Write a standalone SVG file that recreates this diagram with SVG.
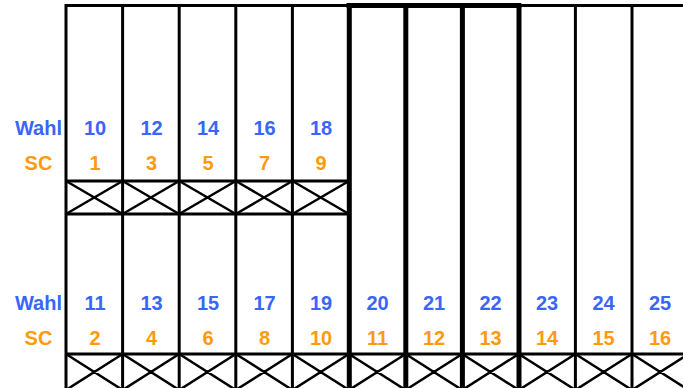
<svg xmlns="http://www.w3.org/2000/svg" width="683" height="388" viewBox="0 0 683 388">
<style>
.ln{stroke:#000;stroke-width:3;fill:none}
.tk{stroke:#000;stroke-width:5;fill:none}
.x{stroke:#000;stroke-width:2.5;fill:none}
text{font-family:"Liberation Sans",Arial,sans-serif;font-weight:bold;font-size:20px;text-anchor:middle}
.w{fill:#3a66f7}
.s{fill:#ff9a10}
</style>
<rect width="683" height="388" fill="#fff"/>
<g id="connectors">
<line class="ln" x1="66" y1="5.5" x2="683" y2="5.5"/>
<line class="tk" x1="346.5" y1="5.5" x2="521.3" y2="5.5"/>
<line class="ln" x1="66" y1="4" x2="66" y2="388"/>
<line class="ln" x1="122.6" y1="5" x2="122.6" y2="388"/>
<line class="ln" x1="179.2" y1="5" x2="179.2" y2="388"/>
<line class="ln" x1="235.8" y1="5" x2="235.8" y2="388"/>
<line class="ln" x1="292.4" y1="5" x2="292.4" y2="388"/>
<line class="tk" x1="349.3" y1="5" x2="349.3" y2="388"/>
<line class="tk" x1="405.8" y1="5" x2="405.8" y2="388"/>
<line class="tk" x1="462.4" y1="5" x2="462.4" y2="388"/>
<line class="tk" x1="519" y1="5" x2="519" y2="388"/>
<line class="ln" x1="575.4" y1="5" x2="575.4" y2="388"/>
<line class="ln" x1="632" y1="5" x2="632" y2="388"/>
<line class="ln" x1="66" y1="181" x2="349" y2="181"/>
<line class="ln" x1="66" y1="214" x2="349" y2="214"/>
<path class="x" d="M66 181L122.6 214M122.6 181L66 214M122.6 181L179.2 214M179.2 181L122.6 214M179.2 181L235.8 214M235.8 181L179.2 214M235.8 181L292.4 214M292.4 181L235.8 214M292.4 181L349 214M349 181L292.4 214"/>
<line class="ln" x1="66" y1="354" x2="683" y2="354"/>
<path class="x" d="M66 354L122.6 390M122.6 354L66 390M122.6 354L179.2 390M179.2 354L122.6 390M179.2 354L235.8 390M235.8 354L179.2 390M235.8 354L292.4 390M292.4 354L235.8 390M292.4 354L349 390M349 354L292.4 390M349 354L405.6 390M405.6 354L349 390M405.6 354L462.2 390M462.2 354L405.6 390M462.2 354L518.8 390M518.8 354L462.2 390M518.8 354L575.4 390M575.4 354L518.8 390M575.4 354L632 390M632 354L575.4 390M632 354L688.6 390M688.6 354L632 390"/>
</g>
<g id="labels">
<text class="w" x="38.5" y="135">Wahl</text>
<text class="s" x="38.5" y="170">SC</text>
<text class="w" x="38.5" y="310">Wahl</text>
<text class="s" x="38.5" y="345">SC</text>
</g>
<g id="top-row">
<text class="w" x="95" y="135">10</text><text class="s" x="95" y="170">1</text>
<text class="w" x="151.5" y="135">12</text><text class="s" x="151.5" y="170">3</text>
<text class="w" x="208" y="135">14</text><text class="s" x="208" y="170">5</text>
<text class="w" x="264.5" y="135">16</text><text class="s" x="264.5" y="170">7</text>
<text class="w" x="321" y="135">18</text><text class="s" x="321" y="170">9</text>
</g>
<g id="bottom-row">
<text class="w" x="95" y="310">11</text><text class="s" x="95" y="345">2</text>
<text class="w" x="151.5" y="310">13</text><text class="s" x="151.5" y="345">4</text>
<text class="w" x="208" y="310">15</text><text class="s" x="208" y="345">6</text>
<text class="w" x="264.5" y="310">17</text><text class="s" x="264.5" y="345">8</text>
<text class="w" x="321" y="310">19</text><text class="s" x="321" y="345">10</text>
<text class="w" x="377.5" y="310">20</text><text class="s" x="377.5" y="345">11</text>
<text class="w" x="434" y="310">21</text><text class="s" x="434" y="345">12</text>
<text class="w" x="490.5" y="310">22</text><text class="s" x="490.5" y="345">13</text>
<text class="w" x="547" y="310">23</text><text class="s" x="547" y="345">14</text>
<text class="w" x="603.5" y="310">24</text><text class="s" x="603.5" y="345">15</text>
<text class="w" x="660" y="310">25</text><text class="s" x="660" y="345">16</text>
</g>
</svg>
